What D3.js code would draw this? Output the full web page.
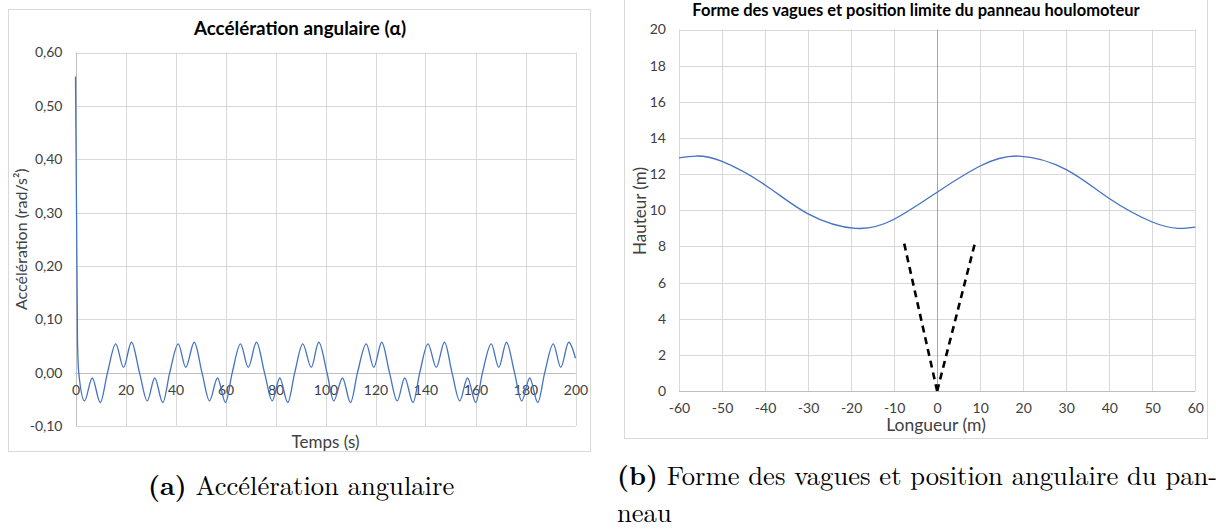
<!DOCTYPE html>
<html>
<head>
<meta charset="utf-8">
<script src="https://cdn.jsdelivr.net/npm/d3@7"></script>
<style>
body{margin:0;background:#fff;}
svg{display:block;}
</style>
</head>
<body>
<div id="figure"></div>
<script>
// ---- data ----
// (a) angular acceleration : extrema + zero crossings of the curve
const accTime = [0, 0.8, 1.3,
  3.6, 6.7, 9.9, 12.8, 16.1, 19.2, 22.4, 25.6,
  28.7, 31.7, 34.9, 37.7, 41.1, 44.1, 47.5, 50.6,
  53.6, 56.8, 60.0, 62.7, 66.0, 69.1, 72.4, 75.6,
  78.7, 81.7, 84.9, 87.7, 90.9, 94.3, 97.3, 100.6,
  103.3, 106.8, 110.0, 112.8, 116.3, 119.3, 122.5, 125.6,
  128.7, 131.7, 135.0, 137.7, 141.0, 144.3, 147.6, 150.6,
  153.7, 156.8, 160.1, 162.8, 166.3, 169.3, 172.4, 175.6,
  178.5, 181.7, 184.9, 187.7, 191.1, 194.1, 197.3, 200]
const accValue = [0.555, 0.06, 0.0,
  -0.053, -0.010, -0.056, 0, 0.054, 0.010, 0.057, 0,
  -0.053, -0.010, -0.056, 0, 0.054, 0.010, 0.057, 0,
  -0.053, -0.010, -0.056, 0, 0.054, 0.010, 0.057, 0,
  -0.053, -0.010, -0.056, 0, 0.054, 0.010, 0.057, 0,
  -0.053, -0.010, -0.056, 0, 0.054, 0.010, 0.057, 0,
  -0.053, -0.010, -0.056, 0, 0.054, 0.010, 0.057, 0,
  -0.053, -0.010, -0.056, 0, 0.054, 0.010, 0.057, 0,
  -0.053, -0.010, -0.056, 0, 0.054, 0.010, 0.057, 0.027]
const accTicksX = [0, 20, 40, 60, 80, 100, 120, 140, 160, 180, 200]
const accTicksY = [-0.1, 0, 0.1, 0.2, 0.3, 0.4, 0.5, 0.6]

// (b) wave shape and panel limit positions
const waveX = [-60, -56, -50, -40, -30, -19, -10, 0, 10, 19, 30, 40, 50, 56, 60]
const waveY = [12.9, 13.0, 12.7, 11.4, 9.8, 9.0, 9.5, 11.0, 12.45, 13.0, 12.25, 10.65, 9.35, 9.0, 9.07]
const panelLeftX = [0, -7.7]
const panelLeftY = [0, 8.2]
const panelRightX = [0, 8.8]
const panelRightY = [0, 8.2]
const waveTicksX = [-60, -50, -40, -30, -20, -10, 0, 10, 20, 30, 40, 50, 60]
const waveTicksY = [0, 2, 4, 6, 8, 10, 12, 14, 16, 18, 20]

// ---- settings ----
const W = 1216, H = 529
const font = 'Lato, "Open Sans", sans-serif'
const grid = '#d9d9d9'
const textCol = '#404040'
const blue = '#4472c4'

const svg = d3.select('#figure').append('svg')
  .attr('width', W).attr('height', H)
  .attr('viewBox', `0 0 ${W} ${H}`)

// excel style : comma decimals, plain hyphen for minus
const comma = d => d3.format('.2f')(d).replace('.', ',').replace('−', '-')
const plain = d => String(d)

// ================= (a) =================
const a = {frame: {x: 8.5, y: 9.5, w: 582, h: 442}, left: 75.5, right: 575.5, top: 52.5, bottom: 426}

svg.append('rect')
  .attr('x', a.frame.x).attr('y', a.frame.y)
  .attr('width', a.frame.w).attr('height', a.frame.h)
  .attr('fill', '#fff').attr('stroke', grid)

const xA = d3.scaleLinear().domain([0, 200]).range([a.left, a.right])
const yA = d3.scaleLinear().domain([-0.1, 0.6]).range([a.bottom, a.top])

const gA = svg.append('g')

// gridlines
gA.append('g').selectAll('line').data(accTicksY).join('line')
  .attr('x1', a.left).attr('x2', a.right)
  .attr('y1', d => Math.round(yA(d)) + 0.5).attr('y2', d => Math.round(yA(d)) + 0.5)
  .attr('stroke', grid)
gA.append('g').selectAll('line').data(accTicksX).join('line')
  .attr('y1', a.top).attr('y2', a.bottom)
  .attr('x1', d => Math.round(xA(d)) + 0.5).attr('x2', d => Math.round(xA(d)) + 0.5)
  .attr('stroke', d => d === 0 ? '#bfbfbf' : grid)
// zero line
gA.append('line')
  .attr('x1', a.left).attr('x2', a.right)
  .attr('y1', Math.round(yA(0)) + 0.5).attr('y2', Math.round(yA(0)) + 0.5)
  .attr('stroke', '#bfbfbf')

// axes
const axisYA = gA.append('g')
  .attr('transform', `translate(${a.left},0)`)
  .call(d3.axisLeft(yA).tickValues(accTicksY).tickFormat(comma).tickSize(0).tickPadding(13))
axisYA.select('.domain').remove()

const axisXA = gA.append('g')
  .attr('transform', `translate(0,${yA(0)})`)
  .call(d3.axisBottom(xA).tickValues(accTicksX).tickFormat(plain).tickSize(0).tickPadding(12))
axisXA.select('.domain').remove()

gA.selectAll('.tick text')
  .attr('font-family', font).attr('font-size', 14).attr('fill', textCol)

// curve
const lineA = d3.line()
  .x((d, i) => xA(accTime[i]))
  .y(d => yA(d))
  .curve(d3.curveMonotoneX)

gA.append('path')
  .attr('d', lineA(accValue))
  .attr('fill', 'none')
  .attr('stroke', blue)
  .attr('stroke-width', 1.3)

// titles
gA.append('text')
  .attr('x', 300).attr('y', 35)
  .attr('text-anchor', 'middle')
  .attr('font-family', font).attr('font-weight', 'bold').attr('font-size', 18.8)
  .attr('fill', '#000')
  .text('Accélération angulaire (α)')

gA.append('text')
  .attr('transform', `translate(27,${(a.top + a.bottom) / 2}) rotate(-90)`)
  .attr('text-anchor', 'middle')
  .attr('font-family', font).attr('font-size', 16).attr('fill', textCol)
  .text('Accélération (rad/s²)')

gA.append('text')
  .attr('x', (a.left + a.right) / 2).attr('y', 448)
  .attr('text-anchor', 'middle')
  .attr('font-family', font).attr('font-size', 17).attr('fill', textCol)
  .text('Temps (s)')

// ================= (b) =================
const b = {frame: {x: 624.5, y: -1, w: 583, h: 439.5}, left: 679, right: 1195.3, top: 29.5, bottom: 391}

svg.append('rect')
  .attr('x', b.frame.x).attr('y', b.frame.y)
  .attr('width', b.frame.w).attr('height', b.frame.h)
  .attr('fill', '#fff').attr('stroke', grid)

const xB = d3.scaleLinear().domain([-60, 60]).range([b.left, b.right])
const yB = d3.scaleLinear().domain([0, 20]).range([b.bottom, b.top])

const gB = svg.append('g')

gB.append('g').selectAll('line').data(waveTicksY).join('line')
  .attr('x1', b.left).attr('x2', b.right)
  .attr('y1', d => Math.round(yB(d)) + 0.5).attr('y2', d => Math.round(yB(d)) + 0.5)
  .attr('stroke', d => d === 0 ? '#bfbfbf' : grid)
gB.append('g').selectAll('line').data(waveTicksX).join('line')
  .attr('y1', b.top).attr('y2', b.bottom)
  .attr('x1', d => Math.round(xB(d)) + 0.5).attr('x2', d => Math.round(xB(d)) + 0.5)
  .attr('stroke', d => d === 0 ? '#a6a6a6' : grid)

const axisYB = gB.append('g')
  .attr('transform', `translate(${b.left},0)`)
  .call(d3.axisLeft(yB).tickValues(waveTicksY).tickFormat(plain).tickSize(0).tickPadding(13))
axisYB.select('.domain').remove()

const axisXB = gB.append('g')
  .attr('transform', `translate(0,${b.bottom})`)
  .call(d3.axisBottom(xB).tickValues(waveTicksX).tickFormat(plain).tickSize(0).tickPadding(12))
axisXB.select('.domain').remove()

gB.selectAll('.tick text')
  .attr('font-family', font).attr('font-size', 14).attr('fill', textCol)

const lineB = d3.line()
  .x((d, i) => xB(waveX[i]))
  .y(d => yB(d))
  .curve(d3.curveNatural)

gB.append('path')
  .attr('d', lineB(waveY))
  .attr('fill', 'none')
  .attr('stroke', blue)
  .attr('stroke-width', 1.3)

const panelLine = d3.line()
  .x(d => xB(d[0]))
  .y(d => yB(d[1]))

gB.append('path')
  .attr('d', panelLine(panelLeftX.map((x, i) => [x, panelLeftY[i]])))
  .attr('fill', 'none').attr('stroke', '#000')
  .attr('stroke-width', 2.6).attr('stroke-dasharray', '7,5')
gB.append('path')
  .attr('d', panelLine(panelRightX.map((x, i) => [x, panelRightY[i]])))
  .attr('fill', 'none').attr('stroke', '#000')
  .attr('stroke-width', 2.6).attr('stroke-dasharray', '7,5')

gB.append('text')
  .attr('x', 916).attr('y', 16)
  .attr('text-anchor', 'middle')
  .attr('font-family', font).attr('font-weight', 'bold').attr('font-size', 16.5)
  .attr('fill', '#000')
  .text('Forme des vagues et position limite du panneau houlomoteur')

gB.append('text')
  .attr('transform', `translate(646,211) rotate(-90)`)
  .attr('text-anchor', 'middle')
  .attr('font-family', font).attr('font-size', 17).attr('fill', textCol)
  .text('Hauteur (m)')

gB.append('text')
  .attr('x', 936).attr('y', 431)
  .attr('text-anchor', 'middle')
  .attr('font-family', font).attr('font-size', 17.5).attr('fill', textCol)
  .text('Longueur (m)')

// ================= captions =================
const serif = '"Latin Modern Roman", "Liberation Serif", serif'
const capA = svg.append('text')
  .attr('x', 148).attr('y', 495)
  .attr('font-family', serif).attr('font-size', 26.6).attr('fill', '#000')
capA.append('tspan').attr('font-weight', 'bold').text('(a)')
capA.append('tspan').text(' Accélération angulaire')

const capB = svg.append('text')
  .attr('x', 617).attr('y', 485)
  .attr('font-family', serif).attr('font-size', 26.6).attr('fill', '#000')
capB.append('tspan').attr('font-weight', 'bold').text('(b)')
capB.append('tspan').text(' Forme des vagues et position angulaire du pan-')

svg.append('text')
  .attr('x', 617).attr('y', 522)
  .attr('font-family', serif).attr('font-size', 26.6).attr('fill', '#000')
  .text('neau')
</script>
</body>
</html>
